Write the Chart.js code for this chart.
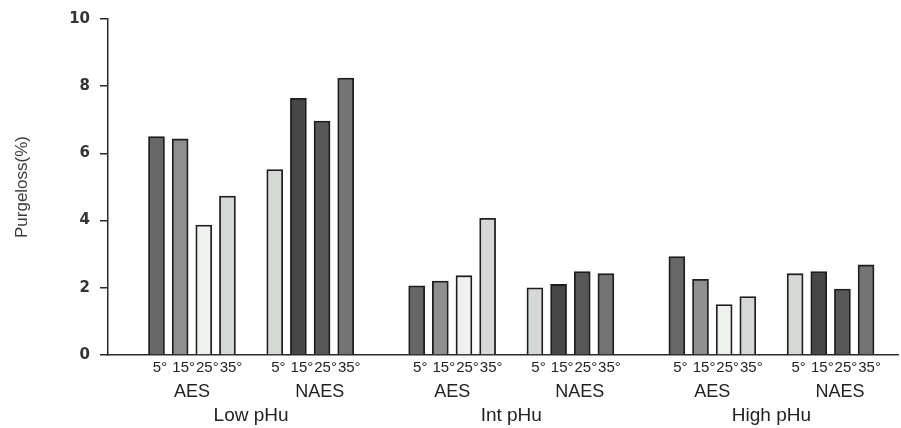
<!DOCTYPE html>
<html>
<head>
<meta charset="utf-8">
<script src="https://cdn.jsdelivr.net/npm/chart.js@4/dist/chart.umd.min.js"></script>
<style>
  html, body { margin: 0; padding: 0; background: #ffffff; }
  canvas { display: block; }
</style>
</head>
<body>
<canvas id="chart" width="901" height="428"></canvas>
<script>
// Purge loss (%) by ultimate pH class, electrical stimulation system and temperature
const pHuGroups = ['Low pHu', 'Int pHu', 'High pHu'];
const systems = ['AES', 'NAES'];
const temperatures = ['5°', '15°', '25°', '35°'];

const lowAES   = [6.50, 6.43, 3.87, 4.73];
const lowNAES  = [5.52, 7.64, 6.96, 8.24];
const intAES   = [2.06, 2.20, 2.36, 4.07];
const intNAES  = [2.00, 2.10, 2.48, 2.42];
const highAES  = [2.93, 2.25, 1.50, 1.74];
const highNAES = [2.42, 2.48, 1.96, 2.68];

const purgeLoss = [[lowAES, lowNAES], [intAES, intNAES], [highAES, highNAES]];

// grey fills, one per temperature within each system
const aesFill  = ['#676767', '#8f8f8f', '#eff1ef', '#d6d8d7'];
const naesFill = ['#d6d8d6', '#474747', '#585858', '#747474'];

// x slots: 4 bars per system, one empty slot between systems, two between pHu groups
const GROUP_SLOTS = 11;
const SYSTEM_SLOTS = 5;
const X_MIN = -2.05;
const X_MAX = 31.35;
const DEGREE_NUDGE = 0.15;   // numbers sit centred under the bar, the degree sign hangs right

const points = [];
const fills = [];
const tempTicks = [];
const systemTicks = [];
const groupTicks = [];

pHuGroups.forEach((group, gi) => {
  const groupStart = gi * GROUP_SLOTS;
  groupTicks.push({ value: groupStart + 4, label: group });
  systems.forEach((system, si) => {
    const first = groupStart + si * SYSTEM_SLOTS;
    systemTicks.push({ value: first + 1.5 + (si ? 0.4 : 0), label: system });
    temperatures.forEach((temp, ti) => {
      points.push({ x: first + ti, y: purgeLoss[gi][si][ti] });
      fills.push((si ? naesFill : aesFill)[ti]);
      tempTicks.push({ value: first + ti + DEGREE_NUDGE, label: temp });
    });
  });
});

const TEXT = '#222222';
const SANS = "'Liberation Sans', Arial, sans-serif";

// a bottom axis that only carries a row of labels at fixed slot positions
function labelAxis(ticks, fontSize, height, padding, showBaseline) {
  return {
    type: 'linear',
    position: 'bottom',
    min: X_MIN,
    max: X_MAX,
    offset: false,
    grid: { display: false, drawTicks: false, offset: false },
    border: showBaseline ? { display: true, color: '#2a2a2a', width: 1.5 } : { display: false },
    afterBuildTicks: (scale) => { scale.ticks = ticks.map(t => ({ value: t.value })); },
    afterFit: (scale) => { scale.height = height; },
    ticks: {
      autoSkip: false,
      maxRotation: 0,
      minRotation: 0,
      padding: padding,
      color: TEXT,
      font: { family: SANS, size: fontSize },
      callback: (value, index) => ticks[index] ? ticks[index].label : ''
    }
  };
}

new Chart(document.getElementById('chart'), {
  type: 'bar',
  data: {
    datasets: [{
      data: points,
      backgroundColor: fills,
      borderColor: '#1e1e22',
      borderWidth: 1.8,
      barThickness: 16
    }]
  },
  options: {
    responsive: false,
    animation: false,
    layout: { padding: { left: 0, right: 3, top: 15, bottom: 0 } },
    plugins: { legend: { display: false }, tooltip: { enabled: false } },
    scales: {
      x: labelAxis(tempTicks, 15, 24, 4, true),
      xSystem: labelAxis(systemTicks, 18, 24, 2, false),
      xGroup: labelAxis(groupTicks, 19, 25, 1, false),
      y: {
        min: 0,
        max: 10,
        afterFit: (scale) => { scale.width = 108; },
        border: { display: true, color: '#2a2a2a', width: 1.5 },
        grid: { drawOnChartArea: false, drawTicks: true, tickLength: 8, color: '#2a2a2a', lineWidth: 1.5 },
        ticks: {
          stepSize: 2,
          padding: 10,
          color: '#333333',
          font: { family: "'DejaVu Sans', sans-serif", size: 15, weight: 'bold' }
        },
        title: {
          display: true,
          text: 'Purgeloss(%)',
          color: '#3a3a3a',
          padding: { top: 12, bottom: 0 },
          font: { family: SANS, size: 17 }
        }
      }
    }
  }
});
</script>
</body>
</html>
